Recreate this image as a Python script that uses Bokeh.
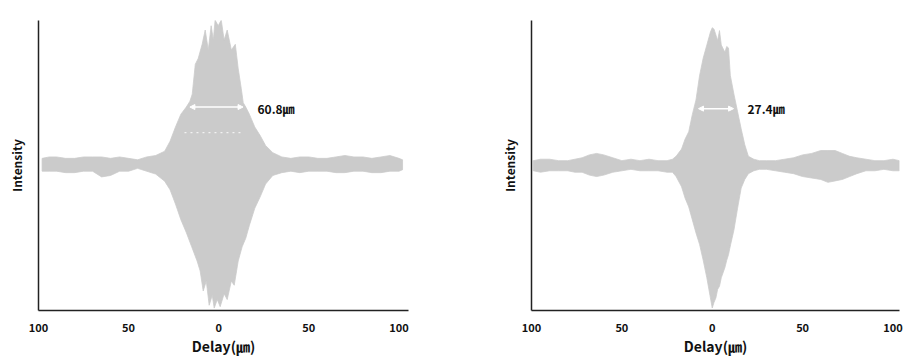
from bokeh.plotting import figure
from bokeh.layouts import row
from bokeh.models import FixedTicker, Arrow, NormalHead, Label
from bokeh.embed import file_html
from bokeh.resources import INLINE

# ---------------- data ----------------
tick_values = [-100, -50, 0, 50, 100]
tick_labels = ["100", "50", "0", "50", "100"]

# Left panel: interferogram envelope (delay in um, normalised intensity)
left_upper_x = [-98, -94, -90, -85, -80, -75, -70, -65, -60, -55, -50, -45, -40, -35, -30, -27, -24, -21, -18,
                -16, -14.7, -13, -11.4, -9.2, -7.5, -5.8, -4.2, -3, -2, -0.3, 1.4, 3, 4.7, 7, 9.2, 10.8,
                12.5, 13.6, 15, 17, 20, 23, 26, 30, 35, 40, 45, 50, 55, 60, 65, 70, 75, 80, 85, 90, 95,
                100, 102]
left_upper = [0.04, 0.05, 0.05, 0.04, 0.04, 0.05, 0.05, 0.05, 0.04, 0.05, 0.04, 0.03, 0.05, 0.06, 0.09, 0.16,
              0.26, 0.35, 0.40, 0.44, 0.49, 0.70, 0.74, 0.84, 0.94, 0.80, 0.97, 0.87, 1.01, 0.97, 1.01, 0.87,
              0.94, 0.80, 0.84, 0.67, 0.53, 0.43, 0.40, 0.35, 0.26, 0.20, 0.13, 0.08, 0.05, 0.04, 0.05, 0.05,
              0.04, 0.04, 0.05, 0.06, 0.05, 0.05, 0.04, 0.05, 0.06, 0.04, 0.03]
left_lower_x = [-98, -94, -90, -85, -80, -75, -70, -65, -60, -55, -50, -45, -40, -35, -30, -27, -24, -21, -18,
                -15, -12, -10.3, -8.6, -6.9, -5.3, -3.6, -2.5, -0.8, 0.8, 3, 4.7, 7, 8.6, 10.8, 13, 15, 17,
                20, 23, 26, 30, 35, 40, 45, 50, 55, 60, 65, 70, 75, 80, 85, 90, 95, 100, 102]
left_lower = [-0.05, -0.05, -0.05, -0.06, -0.06, -0.05, -0.05, -0.09, -0.08, -0.05, -0.05, -0.03, -0.05, -0.07,
              -0.12, -0.18, -0.28, -0.39, -0.48, -0.58, -0.68, -0.75, -0.89, -0.82, -0.99, -0.92, -1.01, -0.95,
              -1.00, -0.91, -0.95, -0.82, -0.85, -0.68, -0.58, -0.52, -0.43, -0.31, -0.23, -0.14, -0.08, -0.06,
              -0.05, -0.06, -0.05, -0.05, -0.05, -0.06, -0.06, -0.05, -0.05, -0.06, -0.06, -0.05, -0.05, -0.04]

# Right panel
right_x = [-99, -95, -90, -85, -80, -76, -72, -68, -64, -60, -55, -50, -45, -40, -35, -30, -25, -22, -20, -17,
           -15, -13, -11, -9, -7, -5, -3, -1, 0, 1, 2, 3, 4, 5, 7, 8, 9, 10, 12, 14, 16, 18, 20, 23, 26, 30,
           35, 40, 45, 50, 55, 60, 64, 68, 72, 76, 80, 85, 90, 95, 100, 103.5]
right_upper = [0.03, 0.04, 0.04, 0.03, 0.03, 0.04, 0.05, 0.07, 0.08, 0.07, 0.05, 0.03, 0.04, 0.03, 0.04, 0.03,
               0.03, 0.04, 0.06, 0.11, 0.18, 0.23, 0.35, 0.45, 0.62, 0.74, 0.83, 0.92, 0.95, 0.94, 0.90, 0.86,
               0.93, 0.83, 0.78, 0.82, 0.81, 0.62, 0.49, 0.37, 0.25, 0.14, 0.06, 0.04, 0.03, 0.03, 0.03, 0.04,
               0.05, 0.07, 0.08, 0.10, 0.10, 0.10, 0.08, 0.06, 0.05, 0.04, 0.03, 0.03, 0.04, 0.03]
right_lower = [-0.04, -0.05, -0.04, -0.04, -0.04, -0.05, -0.05, -0.07, -0.08, -0.07, -0.05, -0.04, -0.03, -0.04,
               -0.04, -0.04, -0.05, -0.05, -0.08, -0.15, -0.23, -0.29, -0.38, -0.47, -0.55, -0.66, -0.78, -0.92,
               -0.99, -0.95, -0.92, -0.86, -0.84, -0.78, -0.71, -0.66, -0.62, -0.56, -0.45, -0.30, -0.16, -0.10,
               -0.06, -0.04, -0.03, -0.03, -0.04, -0.05, -0.06, -0.08, -0.09, -0.10, -0.12, -0.11, -0.10, -0.08,
               -0.06, -0.04, -0.04, -0.03, -0.04, -0.04]

left_width_label = "60.8㎛"
right_width_label = "27.4㎛"
left_arrow = (-16.0, 13.5, 0.40)
right_arrow = (-7.6, 11.8, 0.39)
left_dotted = (-19.0, 12.5, 0.22)   # faint white dotted level line under the left arrow

FILL = "#cbcbcb"
CJK = "Noto Sans CJK KR"


def make_panel(ux, up, lx, lo, xr, yr, borders, arrow, label_text, label_pos, dotted=None):
    bl, br, bt, bb = borders
    p = figure(width=452, height=358, x_range=xr, y_range=yr,
               output_backend="svg", toolbar_location=None,
               min_border_left=bl, min_border_right=br, min_border_top=bt, min_border_bottom=bb)
    p.outline_line_color = None
    p.grid.visible = False
    p.background_fill_color = "white"
    p.border_fill_color = "white"

    px = list(ux) + list(lx)[::-1]
    py = list(up) + list(lo)[::-1]
    p.patch(x=px, y=py, fill_color=FILL, line_color=FILL, line_width=0.8)

    if dotted is not None:
        d0, d1, dy = dotted
        p.line(x=[d0, d1], y=[dy, dy], line_color="white", line_alpha=0.75,
               line_width=1.2, line_dash="2 4")

    # x axis
    xa = p.xaxis[0]
    xa.ticker = FixedTicker(ticks=tick_values)
    xa.major_label_overrides = {v: t for v, t in zip(tick_values, tick_labels)}
    xa.major_tick_line_color = None
    xa.minor_tick_line_color = None
    xa.axis_line_color = "#222222"
    xa.axis_line_width = 1.5
    xa.major_label_text_font = CJK
    xa.major_label_text_font_style = "bold"
    xa.major_label_text_font_size = "11px"
    xa.major_label_text_color = "#111111"
    xa.major_label_standoff = 6
    xa.axis_label = "Delay(㎛)"
    xa.axis_label_text_font = CJK
    xa.axis_label_text_font_style = "bold"
    xa.axis_label_text_font_size = "14px"
    xa.axis_label_text_color = "#111111"
    xa.axis_label_standoff = 1

    # y axis
    ya = p.yaxis[0]
    ya.major_tick_line_color = None
    ya.minor_tick_line_color = None
    ya.major_label_text_font_size = "0px"
    ya.major_label_text_color = None
    ya.axis_line_color = "#222222"
    ya.axis_line_width = 1.5
    ya.axis_label = "Intensity"
    ya.axis_label_text_font = CJK
    ya.axis_label_text_font_style = "bold"
    ya.axis_label_text_font_size = "12px"
    ya.axis_label_text_color = "#111111"
    ya.axis_label_standoff = 8

    x0, x1, ya_ = arrow
    p.add_layout(Arrow(start=NormalHead(size=5, fill_color="white", line_color="white"),
                       end=NormalHead(size=5, fill_color="white", line_color="white"),
                       x_start=x0, y_start=ya_, x_end=x1, y_end=ya_,
                       line_color="white", line_width=1.5))
    p.add_layout(Label(x=label_pos[0], y=label_pos[1], text=label_text,
                       text_font=CJK, text_font_style="bold", text_font_size="12px",
                       text_color="#111111", text_baseline="middle", text_align="left"))
    return p


p1 = make_panel(left_upper_x, left_upper, left_lower_x, left_lower, (-100, 105.3), (-1.027, 1.007),
                (38, 44, 15, 42), left_arrow, left_width_label, (21.5, 0.39), left_dotted)
p2 = make_panel(right_x, right_upper, right_x, right_lower, (-100, 103.6), (-1.007, 1.0),
                (79, 5, 20, 45), right_arrow, right_width_label, (19.5, 0.39))

layout = row(p1, p2)
open("out.html", "w").write(file_html(layout, INLINE))
